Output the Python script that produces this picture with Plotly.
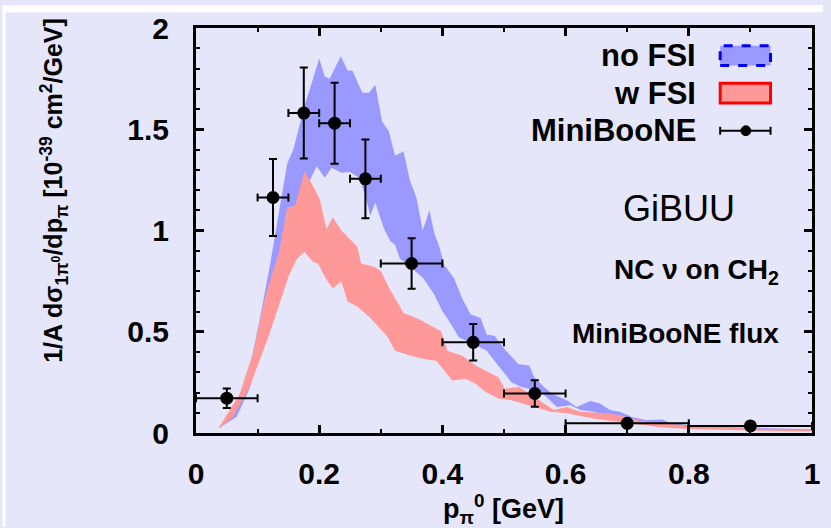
import plotly.graph_objects as go

# ---------------- data ----------------
# no FSI band (upper / lower edges)
nofsi_up_x = [0.038, 0.066, 0.087, 0.105, 0.121, 0.137, 0.148, 0.158, 0.177, 0.187, 0.200, 0.209, 0.217,
              0.235, 0.246, 0.254, 0.270, 0.281, 0.291, 0.302, 0.313, 0.323, 0.337, 0.347, 0.358, 0.368,
              0.379, 0.387, 0.395, 0.403, 0.419, 0.432, 0.446, 0.462, 0.472, 0.485, 0.501, 0.523, 0.541,
              0.549, 0.565, 0.578, 0.602, 0.618, 0.640, 0.656, 0.672, 0.688, 0.709, 0.730, 0.757, 0.770,
              0.794, 0.836, 0.889, 1.000]
nofsi_up_y = [0.030, 0.129, 0.316, 0.585, 0.845, 1.138, 1.330, 1.400, 1.625, 1.720, 1.850, 1.760, 1.750,
              1.860, 1.790, 1.790, 1.680, 1.680, 1.720, 1.540, 1.490, 1.370, 1.390, 1.250, 1.160, 1.000,
              1.100, 0.985, 0.920, 0.830, 0.764, 0.666, 0.585, 0.568, 0.487, 0.479, 0.414, 0.341, 0.333,
              0.275, 0.227, 0.194, 0.162, 0.129, 0.158, 0.146, 0.113, 0.105, 0.078, 0.064, 0.067, 0.051,
              0.040, 0.031, 0.026, 0.019]
nofsi_lo_x = [0.038, 0.066, 0.087, 0.105, 0.121, 0.137, 0.150, 0.165, 0.176, 0.185, 0.196, 0.209, 0.220,
              0.236, 0.249, 0.265, 0.275, 0.283, 0.291, 0.305, 0.315, 0.323, 0.331, 0.345, 0.369, 0.387,
              0.400, 0.411, 0.427, 0.450, 0.472, 0.493, 0.512, 0.528, 0.560, 0.586, 0.608, 0.624, 0.645,
              0.688, 0.730, 0.800, 0.900, 1.000]
nofsi_lo_y = [0.025, 0.080, 0.220, 0.400, 0.560, 0.720, 0.900, 1.080, 1.200, 1.250, 1.317, 1.260, 1.310,
              1.285, 1.290, 1.260, 1.170, 1.073, 1.138, 1.010, 0.950, 0.930, 0.861, 0.829, 0.764, 0.683,
              0.601, 0.552, 0.471, 0.440, 0.406, 0.324, 0.251, 0.227, 0.202, 0.129, 0.137, 0.113, 0.105,
              0.070, 0.045, 0.025, 0.015, 0.010]

# w FSI band (upper / lower edges)
wfsi_up_x = [0.038, 0.071, 0.092, 0.113, 0.135, 0.148, 0.161, 0.176, 0.190, 0.201, 0.212, 0.222, 0.236,
             0.252, 0.262, 0.268, 0.289, 0.300, 0.313, 0.337, 0.363, 0.398, 0.408, 0.432, 0.454, 0.475,
             0.491, 0.501, 0.525, 0.549, 0.581, 0.602, 0.624, 0.666, 0.688, 0.720, 0.760, 0.800, 0.900,
             1.000]
wfsi_up_y = [0.031, 0.194, 0.390, 0.683, 0.894, 1.114, 1.122, 1.293, 1.220, 1.154, 1.008, 1.065, 1.000,
             0.950, 0.920, 0.837, 0.821, 0.800, 0.720, 0.593, 0.561, 0.503, 0.406, 0.381, 0.333, 0.300,
             0.275, 0.219, 0.227, 0.178, 0.113, 0.129, 0.105, 0.097, 0.088, 0.060, 0.050, 0.035, 0.022,
             0.015]
wfsi_lo_x = [0.038, 0.060, 0.087, 0.119, 0.135, 0.151, 0.164, 0.176, 0.190, 0.198, 0.212, 0.222, 0.236,
             0.246, 0.262, 0.283, 0.310, 0.323, 0.350, 0.370, 0.390, 0.416, 0.438, 0.454, 0.470, 0.491,
             0.512, 0.549, 0.576, 0.602, 0.645, 0.688, 0.750, 0.800, 0.900, 1.000]
wfsi_lo_y = [0.022, 0.080, 0.227, 0.487, 0.634, 0.780, 0.861, 0.894, 0.845, 0.837, 0.756, 0.715, 0.748,
             0.650, 0.625, 0.568, 0.479, 0.406, 0.380, 0.365, 0.357, 0.259, 0.268, 0.243, 0.202, 0.170,
             0.162, 0.129, 0.105, 0.097, 0.072, 0.056, 0.030, 0.020, 0.012, 0.008]

# MiniBooNE data
mb_x = [0.05, 0.125, 0.175, 0.225, 0.275, 0.35, 0.45, 0.55, 0.70, 0.90]
mb_xerr = [0.05, 0.025, 0.025, 0.025, 0.025, 0.05, 0.05, 0.05, 0.10, 0.10]
mb_y = [0.172, 1.163, 1.580, 1.530, 1.255, 0.837, 0.448, 0.195, 0.048, 0.035]
mb_yerr = [0.048, 0.190, 0.225, 0.200, 0.195, 0.125, 0.090, 0.065, 0.018, 0.010]

x_ticks = [0, 0.2, 0.4, 0.6, 0.8, 1]
x_ticktext = ["0", "0.2", "0.4", "0.6", "0.8", "1"]
y_ticks = [0, 0.5, 1, 1.5, 2]
y_ticktext = ["0", "0.5", "1", "1.5", "2"]

BLUE_FILL = "#9999FF"
RED_FILL = "#FF9999"
BG = "#E6E6FA"
FONT = "Liberation Sans, Arial, sans-serif"

fig = go.Figure()

fig.add_trace(go.Scatter(
    x=nofsi_up_x + nofsi_lo_x[::-1], y=nofsi_up_y + nofsi_lo_y[::-1],
    fill="toself", fillcolor=BLUE_FILL, line=dict(width=0), mode="lines",
    hoverinfo="skip", showlegend=False))
fig.add_trace(go.Scatter(
    x=wfsi_up_x + wfsi_lo_x[::-1], y=wfsi_up_y + wfsi_lo_y[::-1],
    fill="toself", fillcolor=RED_FILL, line=dict(width=0), mode="lines",
    hoverinfo="skip", showlegend=False))
fig.add_trace(go.Scatter(
    x=mb_x, y=mb_y, mode="markers",
    marker=dict(color="black", size=13),
    error_x=dict(type="data", array=mb_xerr, color="black", thickness=2, width=4),
    error_y=dict(type="data", array=mb_yerr, color="black", thickness=2, width=4),
    showlegend=False))

axis_common = dict(
    showline=True, linecolor="black", linewidth=3, mirror="allticks",
    ticks="inside", ticklen=8, tickwidth=2.5, tickcolor="black",
    showgrid=False, zeroline=False,
    tickfont=dict(family=FONT, size=30, color="black", weight="bold"),
)
fig.update_xaxes(range=[0, 1], tickvals=x_ticks, ticktext=x_ticktext,
                 minor=dict(dtick=0.1, ticks="inside", ticklen=4, tickwidth=2, tickcolor="black"),
                 ticklabelstandoff=12, **axis_common)
fig.update_yaxes(range=[0, 2], tickvals=y_ticks, ticktext=y_ticktext,
                 minor=dict(dtick=0.1, ticks="inside", ticklen=4, tickwidth=2, tickcolor="black"),
                 ticklabelstandoff=18, **axis_common)

L, R, T, B = 196, 11, 23, 95
W, H = 831, 528
pw, ph = W - L - R, H - T - B


def px(xp):
    return (xp - L) / pw


def py(yp):
    return (H - B - yp) / ph


shapes = [
    # white strips at top & left of the page
    dict(type="rect", xref="paper", yref="paper", x0=px(0), x1=px(W), y0=py(7), y1=py(0),
         fillcolor="white", line=dict(width=0), layer="above"),
    dict(type="rect", xref="paper", yref="paper", x0=px(0), x1=px(3), y0=py(H), y1=py(0),
         fillcolor="white", line=dict(width=0), layer="above"),
    # legend keys
    dict(type="rect", xref="paper", yref="paper", x0=px(727), x1=px(778), y0=py(61), y1=py(41),
         fillcolor=BLUE_FILL, line=dict(color="#0000FF", width=3, dash="dash")),
    dict(type="rect", xref="paper", yref="paper", x0=px(727), x1=px(778), y0=py(99), y1=py(79),
         fillcolor=RED_FILL, line=dict(color="#FF0000", width=3)),
    dict(type="line", xref="paper", yref="paper", x0=px(727), x1=px(778), y0=py(127), y1=py(127),
         line=dict(color="black", width=2)),
    dict(type="line", xref="paper", yref="paper", x0=px(727), x1=px(727), y0=py(123), y1=py(131),
         line=dict(color="black", width=2)),
    dict(type="line", xref="paper", yref="paper", x0=px(778), x1=px(778), y0=py(123), y1=py(131),
         line=dict(color="black", width=2)),
    dict(type="circle", xref="paper", yref="paper", x0=px(748), x1=px(758), y0=py(132), y1=py(122),
         fillcolor="black", line=dict(color="black", width=1)),
]

annotations = [
    dict(text="<b>no FSI</b>", x=px(705), y=py(51), xanchor="right", yanchor="middle"),
    dict(text="<b>w FSI</b>", x=px(705), y=py(89), xanchor="right", yanchor="middle"),
    dict(text="<b>MiniBooNE</b>", x=px(705), y=py(127), xanchor="right", yanchor="middle"),
]
for a in annotations:
    a.update(xref="paper", yref="paper", showarrow=False,
             font=dict(family=FONT, size=31, color="black"))

annotations += [
    dict(text="GiBUU", x=px(685), y=py(206), xanchor="center", yanchor="middle",
         font=dict(family=FONT, size=36, color="black")),
    dict(text="<b>NC ν on CH<sub>2</sub></b>", x=px(789), y=py(270), xanchor="right", yanchor="middle",
         font=dict(family=FONT, size=28, color="black")),
    dict(text="<b>MiniBooNE flux</b>", x=px(789), y=py(332), xanchor="right", yanchor="middle",
         font=dict(family=FONT, size=28, color="black")),
    dict(text="<b>p<sub>π</sub><sup>0</sup> [GeV]</b>", x=px(507), y=py(510), xanchor="center",
         yanchor="middle", font=dict(family=FONT, size=27, color="black")),
    dict(text="<b>1/A dσ<sub>1π<sup>0</sup></sub>/dp<sub>π</sub> [10<sup>-39</sup> cm<sup>2</sup>/GeV]</b>",
         x=px(52), y=py(187), xanchor="center", yanchor="middle", textangle=-90,
         font=dict(family=FONT, size=25, color="black")),
]
for a in annotations[3:]:
    a.update(xref="paper", yref="paper", showarrow=False)

fig.update_layout(
    width=W, height=H,
    margin=dict(l=L, r=R, t=T, b=B, pad=0),
    paper_bgcolor=BG, plot_bgcolor=BG,
    shapes=shapes, annotations=annotations,
    showlegend=False,
)

# remove the default page margin so the figure sits at the window's top-left corner
fig.write_html("out.html", config={"displayModeBar": False},
               post_script="document.body.style.margin='0';document.body.style.padding='0';")
